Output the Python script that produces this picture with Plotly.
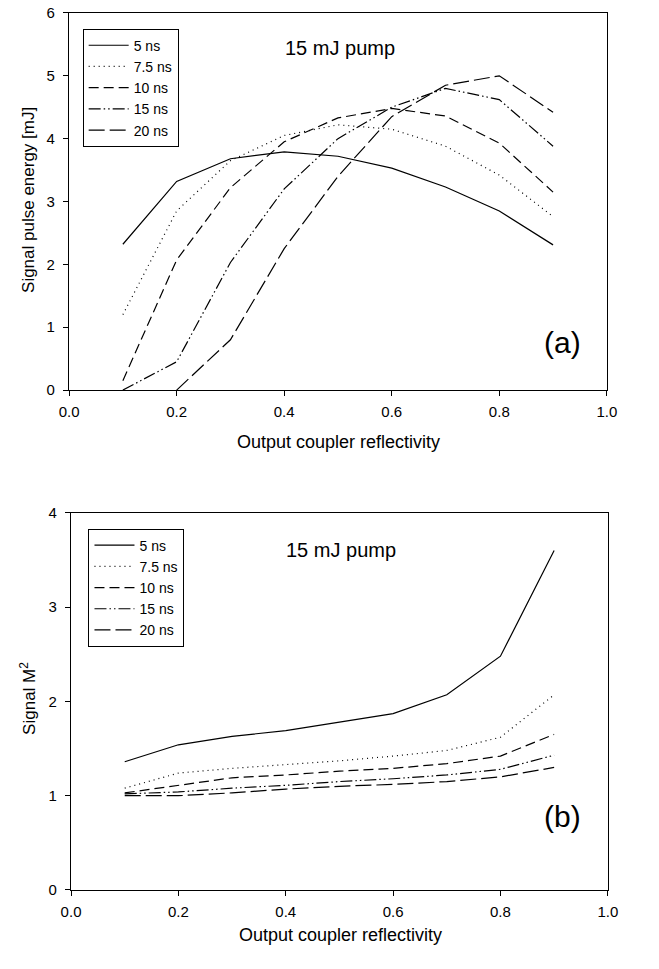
import plotly.graph_objects as go

reflectivity = [0.1, 0.2, 0.3, 0.4, 0.5, 0.6, 0.7, 0.8, 0.9]
series_names = ["5 ns", "7.5 ns", "10 ns", "15 ns", "20 ns"]

# (a) Signal pulse energy [mJ]
energy_5ns = [2.32, 3.32, 3.68, 3.79, 3.72, 3.53, 3.23, 2.85, 2.31]
energy_7_5ns = [1.20, 2.85, 3.65, 4.05, 4.22, 4.15, 3.88, 3.42, 2.76]
energy_10ns = [0.15, 2.07, 3.22, 3.95, 4.33, 4.48, 4.36, 3.93, 3.15]
energy_15ns = [0.00, 0.45, 2.03, 3.20, 4.00, 4.50, 4.80, 4.62, 3.88]
energy_20ns_x = [0.2, 0.3, 0.4, 0.5, 0.6, 0.7, 0.8, 0.9]
energy_20ns = [0.00, 0.80, 2.25, 3.40, 4.35, 4.85, 5.00, 4.42]

# (b) Signal M^2
m2_5ns = [1.36, 1.54, 1.63, 1.69, 1.78, 1.87, 2.07, 2.48, 3.60]
m2_7_5ns = [1.08, 1.24, 1.29, 1.33, 1.37, 1.42, 1.48, 1.62, 2.07]
m2_10ns = [1.03, 1.11, 1.19, 1.22, 1.26, 1.29, 1.34, 1.42, 1.65]
m2_15ns = [1.02, 1.04, 1.08, 1.11, 1.15, 1.18, 1.22, 1.28, 1.43]
m2_20ns = [1.00, 1.00, 1.03, 1.07, 1.10, 1.12, 1.15, 1.20, 1.30]

x_ticks = [0.0, 0.2, 0.4, 0.6, 0.8, 1.0]
x_tick_labels = ["0.0", "0.2", "0.4", "0.6", "0.8", "1.0"]
ya_ticks = [0, 1, 2, 3, 4, 5, 6]
yb_ticks = [0, 1, 2, 3, 4]

dashes = ["solid", "1px,4px", "10px,5px", "12px,3px,1.5px,3px,1.5px,3px", "16px,5px"]
FONT = "Liberation Sans, Arial, sans-serif"

fig = go.Figure()

a_x = [reflectivity, reflectivity, reflectivity, reflectivity, energy_20ns_x]
a_y = [energy_5ns, energy_7_5ns, energy_10ns, energy_15ns, energy_20ns]
for name, xs, ys, d in zip(series_names, a_x, a_y, dashes):
    fig.add_trace(go.Scatter(x=xs, y=ys, mode="lines", name=name,
                             line=dict(color="black", width=1.2, dash=d),
                             xaxis="x", yaxis="y", legend="legend"))

b_y = [m2_5ns, m2_7_5ns, m2_10ns, m2_15ns, m2_20ns]
for name, ys, d in zip(series_names, b_y, dashes):
    fig.add_trace(go.Scatter(x=reflectivity, y=ys, mode="lines", name=name,
                             line=dict(color="black", width=1.2, dash=d),
                             xaxis="x2", yaxis="y2", legend="legend2"))

# The page body keeps an 8px default margin, so the figure is sized to fit
# the 659x969 window inside it; page coordinates are mapped accordingly.
OFF = 8
W, H = 659 - 2 * OFF, 969 - 2 * OFF
def px(v): return (v - OFF) / W
def py(v): return 1 - (v - OFF) / H

axis_common = dict(showgrid=False, zeroline=False, showline=True, linecolor="black",
                   linewidth=1.3, mirror=True, ticks="outside", ticklen=5,
                   tickcolor="black", tickfont=dict(size=15, family=FONT, color="black"))

legend_common = dict(xanchor="left", yanchor="top", bordercolor="black", borderwidth=1,
                     bgcolor="white", font=dict(size=14, family=FONT, color="black"),
                     tracegroupgap=0, itemwidth=40, entrywidth=60, entrywidthmode="pixels")

fig.update_layout(
    width=W, height=H,
    margin=dict(l=0, r=0, t=0, b=0),
    paper_bgcolor="white", plot_bgcolor="white",
    font=dict(family=FONT, color="black"),
    xaxis=dict(domain=[px(69), px(624)], range=[0, 1], tickvals=x_ticks,
               ticktext=x_tick_labels, anchor="y", ticklabelstandoff=3, **axis_common),
    yaxis=dict(domain=[py(396), py(12)], range=[0, 6], tickvals=ya_ticks,
               anchor="x", ticklabelstandoff=5, **axis_common),
    xaxis2=dict(domain=[px(71), px(625)], range=[0, 1], tickvals=x_ticks,
                ticktext=x_tick_labels, anchor="y2", ticklabelstandoff=3, **axis_common),
    yaxis2=dict(domain=[py(905), py(521)], range=[0, 4], tickvals=yb_ticks,
                anchor="x2", ticklabelstandoff=5, **axis_common),
    legend=dict(x=px(83), y=py(28), **legend_common),
    legend2=dict(x=px(89), y=py(537), **legend_common),
    showlegend=True,
)

ann = [
    dict(text="15 mJ pump", x=px(349), y=py(48), size=20),
    dict(text="(a)", x=px(578), y=py(348), size=30),
    dict(text="Output coupler reflectivity", x=px(347), y=py(449), size=18),
    dict(text="15 mJ pump", x=px(350), y=py(559), size=20),
    dict(text="(b)", x=px(578), y=py(830), size=30),
    dict(text="Output coupler reflectivity", x=px(349), y=py(951), size=18),
]
for a in ann:
    fig.add_annotation(text=a["text"], x=a["x"], y=a["y"], xref="paper", yref="paper",
                       xanchor="center", yanchor="middle", showarrow=False,
                       font=dict(size=a["size"], family=FONT, color="black"))

fig.add_annotation(text="Signal pulse energy [mJ]", x=px(27), y=py(202), xref="paper",
                   yref="paper", textangle=-90, showarrow=False, xanchor="center",
                   yanchor="middle", font=dict(size=17, family=FONT, color="black"))
fig.add_annotation(text="Signal M<sup>2</sup>", x=px(27), y=py(710), xref="paper",
                   yref="paper", textangle=-90, showarrow=False, xanchor="center",
                   yanchor="middle", font=dict(size=17, family=FONT, color="black"))

fig.write_html("out.html")
